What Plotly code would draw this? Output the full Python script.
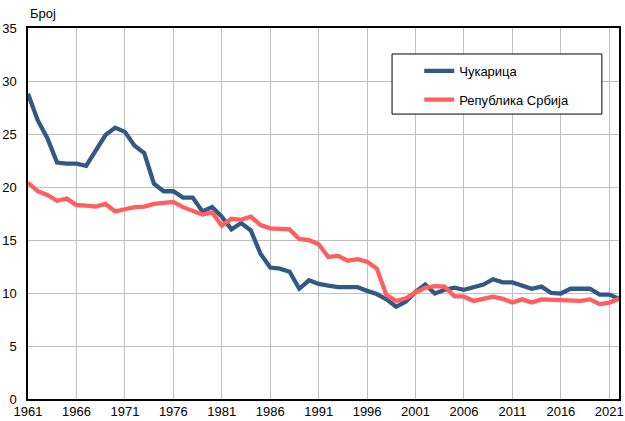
import plotly.graph_objects as go

years = list(range(1961, 2023))

cukarica = [28.8, 26.3, 24.6, 22.3, 22.2, 22.2, 22.0, 23.5, 24.9, 25.6,
            25.2, 23.9, 23.2, 20.3, 19.6, 19.6, 19.0, 19.0, 17.7, 18.1,
            17.2, 16.0, 16.6, 15.9, 13.7, 12.4, 12.3, 12.0, 10.4, 11.2,
            10.85, 10.7, 10.55, 10.55, 10.55, 10.2, 9.9, 9.4, 8.7, 9.2,
            10.1, 10.8, 9.95, 10.3, 10.5, 10.3, 10.5, 10.8, 11.3, 11.0,
            11.0, 10.75, 10.4, 10.6, 10.0, 9.95, 10.4, 10.4, 10.4, 9.85,
            9.85, 9.45]

srbija = [20.4, 19.6, 19.25, 18.7, 18.9, 18.3, 18.25, 18.15, 18.4, 17.7,
          17.9, 18.1, 18.15, 18.4, 18.5, 18.6, 18.1, 17.7, 17.4, 17.6,
          16.35, 17.0, 16.9, 17.2, 16.4, 16.1, 16.1, 16.0, 15.1, 15.0,
          14.6, 13.4, 13.5, 13.05, 13.2, 12.95, 12.3, 9.8, 9.25, 9.5,
          10.05, 10.5, 10.65, 10.6, 9.7, 9.65, 9.25, 9.45, 9.65, 9.45,
          9.1, 9.4, 9.1, 9.4, 9.35, 9.25, 9.25, 9.25, 9.4, 8.95,
          9.1, 9.45]

x_ticks = list(range(1961, 2022, 5))
y_ticks = [0, 5, 10, 15, 20, 25, 30, 35]

name_a = "Чукарица"
name_b = "Република Србија"

fig = go.Figure()
fig.add_trace(go.Scatter(x=years, y=cukarica, mode="lines", name=name_a,
                         legendgroup="a",
                         line=dict(color="#325985", width=4.3)))
fig.add_trace(go.Scatter(x=years, y=srbija, mode="lines", name=name_b,
                         legendgroup="b",
                         line=dict(color="#FF5F5F", width=4.3)))

fig.update_layout(
    width=625, height=421,
    margin=dict(l=28, r=6, t=28, b=22),
    paper_bgcolor="white", plot_bgcolor="white",
    font=dict(family="Liberation Sans, Arial, sans-serif", size=13, color="#000000"),
    showlegend=True,
    legend=dict(x=0.662, y=0.925, xanchor="left", yanchor="top",
                bgcolor="rgba(0,0,0,0)", borderwidth=0,
                tracegroupgap=9, font=dict(size=13)),
    xaxis=dict(range=[1961, 2022], tickmode="array", tickvals=x_ticks,
               ticktext=[str(t) for t in x_ticks], automargin=False,
               showgrid=True, gridcolor="#BFBFBF", gridwidth=1,
               showline=True, linecolor="#000000", linewidth=1.5, mirror=True,
               ticks="", zeroline=False, tickfont=dict(size=13)),
    yaxis=dict(range=[0, 35], tickmode="array", tickvals=y_ticks,
               automargin=False, ticklabelstandoff=7,
               showgrid=True, gridcolor="#BFBFBF", gridwidth=1,
               showline=True, linecolor="#000000", linewidth=1.5, mirror=True,
               ticks="", zeroline=False, tickfont=dict(size=13)),
    shapes=[dict(type="rect", xref="paper", yref="paper",
                 x0=0.616, x1=0.971, y0=0.768, y1=0.930,
                 line=dict(color="#000000", width=1), fillcolor="white",
                 layer="above")],
    annotations=[dict(text="Број", xref="paper", yref="paper", x=0, y=1,
                      xanchor="left", yanchor="bottom", showarrow=False,
                      yshift=5, font=dict(size=13))],
)

fig.write_html("out.html", config={"displayModeBar": False},
               post_script="document.body.style.margin='0';")
